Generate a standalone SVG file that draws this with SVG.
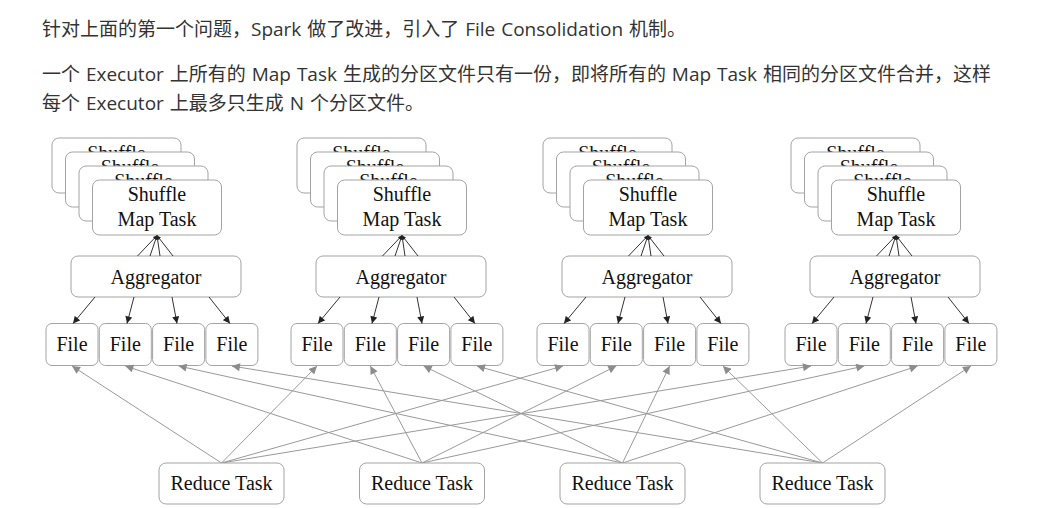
<svg xmlns="http://www.w3.org/2000/svg" width="1060" height="508" viewBox="0 0 1060 508">
<style>
.hd{font-family:"Open Sans","Noto Sans CJK SC",sans-serif;font-size:19px;fill:#333;word-spacing:1px}
.bx{fill:#fff;stroke:#a3a3a3;stroke-width:1}
.t{font-family:"Liberation Serif","Times New Roman",serif;font-size:20px;fill:#111;text-anchor:middle}
.dk{stroke:#333;stroke-width:1;fill:none}
.gr{stroke:#999;stroke-width:1;fill:none}
</style>
<defs>
<marker id="ab" viewBox="0 0 10 10" refX="10" refY="5" markerWidth="8" markerHeight="7" markerUnits="userSpaceOnUse" orient="auto"><path d="M0,0 L10,5 L0,10 z" fill="#222"/></marker>
<marker id="as" viewBox="0 0 10 10" refX="10" refY="5" markerWidth="5" markerHeight="4" markerUnits="userSpaceOnUse" orient="auto"><path d="M0,0 L10,5 L0,10 z" fill="#222"/></marker>
<marker id="ag" viewBox="0 0 10 10" refX="10" refY="5" markerWidth="9" markerHeight="8" markerUnits="userSpaceOnUse" orient="auto"><path d="M0,0 L10,5 L0,10 z" fill="#8c8c8c"/></marker>
<g id="grp">
<rect class="bx" x="52" y="138" width="129" height="55" rx="7"/>
<text class="t" x="116.5" y="160">Shuffle</text><text class="t" x="116.5" y="185">Map Task</text>
<rect class="bx" x="65.5" y="152" width="129" height="55" rx="7"/>
<text class="t" x="130" y="174">Shuffle</text><text class="t" x="130" y="199">Map Task</text>
<rect class="bx" x="79" y="166" width="129" height="55" rx="7"/>
<text class="t" x="143.5" y="188">Shuffle</text><text class="t" x="143.5" y="213">Map Task</text>
<rect class="bx" x="92.5" y="180" width="129" height="55" rx="7"/>
<text class="t" x="157" y="201">Shuffle</text><text class="t" x="157" y="226">Map Task</text>
<rect class="bx" x="71" y="256" width="170" height="41" rx="7"/>
<text class="t" x="156" y="284">Aggregator</text>
<rect class="bx" x="46" y="323.5" width="52" height="42" rx="6"/>
<text class="t" x="72" y="351">File</text>
<rect class="bx" x="99.3" y="323.5" width="52" height="42" rx="6"/>
<text class="t" x="125.3" y="351">File</text>
<rect class="bx" x="152.6" y="323.5" width="52" height="42" rx="6"/>
<text class="t" x="178.6" y="351">File</text>
<rect class="bx" x="205.9" y="323.5" width="52" height="42" rx="6"/>
<text class="t" x="231.9" y="351">File</text>
<path class="dk" d="M137.5,256 L157,235.5" marker-end="url(#as)"/>
<path class="dk" d="M150,256 L157,235.5" marker-end="url(#as)"/>
<path class="dk" d="M160,256 L157,235.5" marker-end="url(#as)"/>
<path class="dk" d="M173,256 L157,235.5" marker-end="url(#as)"/>
<path class="dk" d="M95,297 L73,323.5" marker-end="url(#ab)"/>
<path class="dk" d="M134,297 L127,323.5" marker-end="url(#ab)"/>
<path class="dk" d="M172,297 L177,323.5" marker-end="url(#ab)"/>
<path class="dk" d="M209,297 L230,323.5" marker-end="url(#ab)"/>
</g>
</defs>
<rect width="1060" height="508" fill="#fff"/>
<g id="header">
<text class="hd" x="42" y="36">针对上面的第一个问题，Spark 做了改进，引入了 File Consolidation 机制。</text>
<text class="hd" x="42" y="80.5">一个 Executor 上所有的 Map Task 生成的分区文件只有一份，即将所有的 Map Task 相同的分区文件合并，这样</text>
<text class="hd" x="42" y="110">每个 Executor 上最多只生成 N 个分区文件。</text>
</g>
<g id="executor1"><use href="#grp"/></g>
<g id="executor2"><use href="#grp" transform="translate(245,0)"/></g>
<g id="executor3"><use href="#grp" transform="translate(491,0)"/></g>
<g id="executor4"><use href="#grp" transform="translate(739,0)"/></g>
<g id="connectors">
<path class="gr" d="M221.5,463 L72,366" marker-end="url(#ag)"/>
<path class="gr" d="M221.5,463 L317,366" marker-end="url(#ag)"/>
<path class="gr" d="M221.5,463 L563,366" marker-end="url(#ag)"/>
<path class="gr" d="M221.5,463 L811,366" marker-end="url(#ag)"/>
<path class="gr" d="M422,463 L125.3,366" marker-end="url(#ag)"/>
<path class="gr" d="M422,463 L370.3,366" marker-end="url(#ag)"/>
<path class="gr" d="M422,463 L616.3,366" marker-end="url(#ag)"/>
<path class="gr" d="M422,463 L864.3,366" marker-end="url(#ag)"/>
<path class="gr" d="M622.5,463 L178.6,366" marker-end="url(#ag)"/>
<path class="gr" d="M622.5,463 L423.6,366" marker-end="url(#ag)"/>
<path class="gr" d="M622.5,463 L669.6,366" marker-end="url(#ag)"/>
<path class="gr" d="M622.5,463 L917.6,366" marker-end="url(#ag)"/>
<path class="gr" d="M822.5,463 L231.9,366" marker-end="url(#ag)"/>
<path class="gr" d="M822.5,463 L476.9,366" marker-end="url(#ag)"/>
<path class="gr" d="M822.5,463 L722.9,366" marker-end="url(#ag)"/>
<path class="gr" d="M822.5,463 L970.9,366" marker-end="url(#ag)"/>
</g>
<g id="reduce1"><rect class="bx" x="159" y="463" width="125" height="41" rx="7"/><text class="t" x="221.5" y="490">Reduce Task</text></g>
<g id="reduce2"><rect class="bx" x="359.5" y="463" width="125" height="41" rx="7"/><text class="t" x="422" y="490">Reduce Task</text></g>
<g id="reduce3"><rect class="bx" x="560" y="463" width="125" height="41" rx="7"/><text class="t" x="622.5" y="490">Reduce Task</text></g>
<g id="reduce4"><rect class="bx" x="760" y="463" width="125" height="41" rx="7"/><text class="t" x="822.5" y="490">Reduce Task</text></g>
</svg>
